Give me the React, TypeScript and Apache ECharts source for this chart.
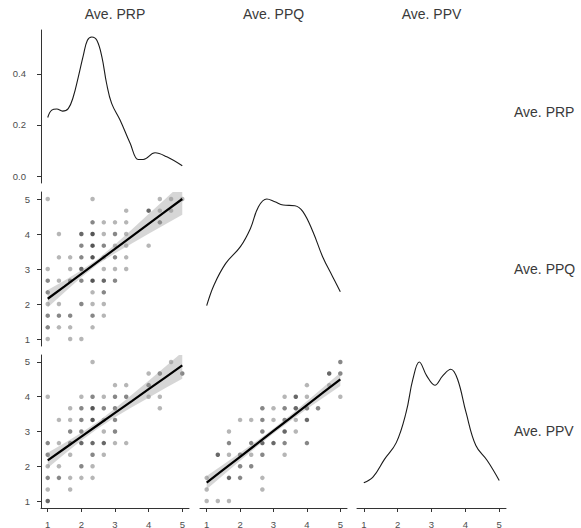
import React, { useEffect, useRef } from "react";
import * as echarts from "echarts";

// ---- labels ----
const varNames = ["Ave. PRP", "Ave. PPQ", "Ave. PPV"];
const xTicks = [1, 2, 3, 4, 5];
const yTicks = [1, 2, 3, 4, 5];
const densTicks = [0, 0.2, 0.4];

// ---- diagonal densities ----
const densPRPx = [1.0, 1.12, 1.27, 1.44, 1.61, 1.76, 1.91, 2.06, 2.18, 2.31, 2.46, 2.61, 2.75, 2.9, 3.15, 3.45, 3.69, 3.84, 4.19, 4.54, 5.0];
const densPRPy = [0.229, 0.258, 0.262, 0.254, 0.264, 0.31, 0.388, 0.473, 0.531, 0.544, 0.531, 0.466, 0.362, 0.284, 0.219, 0.128, 0.065, 0.065, 0.091, 0.075, 0.04];
const densPPQx = [1.0, 1.22, 1.57, 2.01, 2.31, 2.55, 2.8, 3.04, 3.29, 3.64, 3.88, 4.18, 4.47, 4.77, 5.0];
const densPPQy = [0.238, 0.386, 0.54, 0.66, 0.79, 0.945, 1.0, 0.98, 0.957, 0.952, 0.91, 0.766, 0.588, 0.445, 0.338];
const densPPVx = [1.0, 1.27, 1.61, 1.96, 2.25, 2.45, 2.64, 2.86, 3.1, 3.33, 3.57, 3.77, 4.02, 4.31, 4.65, 5.0];
const densPPVy = [0.132, 0.172, 0.3, 0.42, 0.637, 0.876, 1.0, 0.9, 0.833, 0.9, 0.948, 0.876, 0.637, 0.399, 0.29, 0.148];

// ---- scatter points [x, y, count] ----
const ptsPRP_PPQ = [
  [1, 5, 1], [2.333, 5, 1], [4.333, 5, 1], [4.667, 5, 1], [5, 5, 1],
  [3.333, 4.667, 1], [4, 4.667, 3], [4.333, 4.667, 1], [4.667, 4.667, 1],
  [2.333, 4.333, 2], [2.667, 4.333, 1], [3, 4.333, 1], [3.333, 4.333, 1], [4.333, 4.333, 2],
  [1.333, 4, 1], [2, 4, 3], [2.333, 4, 4], [2.667, 4, 1], [3, 4, 2], [3.333, 4, 1],
  [2, 3.667, 2], [2.333, 3.667, 4], [2.667, 3.667, 2], [3, 3.667, 1], [3.333, 3.667, 1], [4, 3.667, 1],
  [1.333, 3.333, 1], [1.667, 3.333, 1], [2, 3.333, 2], [2.333, 3.333, 4], [2.667, 3.333, 1], [3, 3.333, 2], [3.333, 3.333, 1],
  [1, 3, 1], [1.667, 3, 1], [2, 3, 3], [2.667, 3, 1], [3, 3, 1], [3.333, 3, 1],
  [1, 2.667, 2], [1.333, 2.667, 1], [1.667, 2.667, 2], [2, 2.667, 2], [2.333, 2.667, 4], [2.667, 2.667, 3], [3, 2.667, 2],
  [1, 2.333, 2], [2.333, 2.333, 1], [2.667, 2.333, 2],
  [1, 2, 1], [1.333, 2, 1], [2, 2, 2], [2.333, 2, 1], [2.667, 2, 1],
  [1, 1.667, 2], [1.333, 1.667, 2], [1.667, 1.667, 2], [2.333, 1.667, 2], [2.667, 1.667, 1],
  [1, 1.333, 2], [1.333, 1.333, 1], [1.667, 1.333, 1], [2.333, 1.333, 1],
  [1, 1, 1], [1.667, 1, 1], [2, 1, 1],
];
const ptsPRP_PPV = [
  [2.333, 5, 1], [4.667, 5, 1],
  [4, 4.667, 1], [4.333, 4.667, 2], [5, 4.667, 2],
  [3, 4.333, 1], [3.333, 4.333, 1], [4, 4.333, 2],
  [1, 4, 1], [2, 4, 1], [2.333, 4, 2], [2.667, 4, 1], [3, 4, 2], [3.333, 4, 2], [4, 4, 1], [4.333, 4, 1],
  [1.667, 3.667, 1], [2, 3.667, 2], [2.333, 3.667, 4], [2.667, 3.667, 2], [3, 3.667, 2], [4.333, 3.667, 1],
  [1.333, 3.333, 1], [1.667, 3.333, 1], [2, 3.333, 2], [2.333, 3.333, 4], [2.667, 3.333, 1], [3, 3.333, 2],
  [1.667, 3, 2], [2, 3, 2], [2.667, 3, 1], [3, 3, 2],
  [1, 2.667, 2], [1.333, 2.667, 1], [1.667, 2.667, 2], [2, 2.667, 3], [2.333, 2.667, 3], [2.667, 2.667, 3], [3, 2.667, 1], [3.333, 2.667, 1],
  [1, 2.333, 2], [1.667, 2.333, 1], [2.333, 2.333, 2], [2.667, 2.333, 1],
  [1, 2, 1], [1.333, 2, 1], [2, 2, 2], [2.333, 2, 1],
  [1, 1.667, 2], [1.333, 1.667, 2], [1.667, 1.667, 1], [2, 1.667, 1], [2.333, 1.667, 1],
  [1, 1.333, 1], [1.667, 1.333, 1],
  [1, 1, 3],
];
const ptsPPQ_PPV = [
  [5, 5, 2],
  [4.667, 4.667, 3], [5, 4.667, 2],
  [4, 4.333, 1], [4.667, 4.333, 1],
  [3.333, 4, 1], [3.667, 4, 3], [4, 4, 1], [5, 4, 1],
  [2.667, 3.667, 2], [3, 3.667, 1], [3.333, 3.667, 2], [3.667, 3.667, 3], [4, 3.667, 2], [4.333, 3.667, 2],
  [2, 3.333, 1], [2.333, 3.333, 1], [2.667, 3.333, 2], [3, 3.333, 1], [3.333, 3.333, 2], [3.667, 3.333, 1], [4, 3.333, 3],
  [1.667, 3, 1], [2.667, 3, 2], [3.333, 3, 3], [3.667, 3, 1],
  [1.667, 2.667, 2], [2.333, 2.667, 2], [2.667, 2.667, 3], [3, 2.667, 3], [3.333, 2.667, 2], [4, 2.667, 2],
  [1.333, 2.333, 3], [1.667, 2.333, 1], [2, 2.333, 2], [2.333, 2.333, 1], [2.667, 2.333, 2], [3.333, 2.333, 1],
  [2, 2, 2], [2.333, 2, 2],
  [1, 1.667, 1], [1.667, 1.667, 3], [2, 1.667, 2], [2.667, 1.667, 1],
  [1, 1.333, 1], [2.667, 1.333, 1],
  [1, 1, 1], [1.333, 1, 1], [1.667, 1, 1],
];

// ---- linear fits with confidence bands ----
const fitX = [1, 1.5, 2, 2.5, 3, 3.5, 4, 4.5, 5];
const fitPRP_PPQ = [2.15, 2.506, 2.863, 3.219, 3.575, 3.931, 4.288, 4.644, 5.0];
const loPRP_PPQ = [1.9, 2.337, 2.763, 3.144, 3.45, 3.731, 4.008, 4.28, 4.55];
const hiPRP_PPQ = [2.4, 2.675, 2.963, 3.294, 3.7, 4.131, 4.568, 5.008, 5.45];
const fitPRP_PPV = [2.17, 2.511, 2.853, 3.194, 3.535, 3.876, 4.218, 4.559, 4.9];
const loPRP_PPV = [1.95, 2.352, 2.742, 3.097, 3.407, 3.694, 3.973, 4.248, 4.52];
const hiPRP_PPV = [2.39, 2.67, 2.964, 3.291, 3.663, 4.058, 4.463, 4.87, 5.28];
const fitPPQ_PPV = [1.53, 1.901, 2.273, 2.644, 3.015, 3.386, 3.758, 4.129, 4.5];
const loPPQ_PPV = [1.34, 1.751, 2.16, 2.561, 2.945, 3.303, 3.645, 3.979, 4.31];
const hiPPQ_PPV = [1.72, 2.051, 2.386, 2.727, 3.085, 3.469, 3.871, 4.279, 4.69];

const FONT = "'Liberation Sans', Arial, Helvetica, sans-serif";
const AXIS_COLOR = "#333333";
const LABEL_COLOR = "#4d4d4d";

const zip = (xs: number[], ys: number[]) => xs.map((x, i) => [x, ys[i]]);

function makeXAxis(gridIndex: number, show: boolean) {
  return {
    type: "value",
    gridIndex,
    min: 0.8,
    max: 5.2,
    axisLine: { show, onZero: false, lineStyle: { color: AXIS_COLOR, width: 1 } },
    axisTick: { show, length: 4, customValues: xTicks, lineStyle: { color: AXIS_COLOR, width: 1 } },
    axisLabel: {
      show,
      customValues: xTicks,
      margin: 11,
      fontSize: 9.5,
      color: LABEL_COLOR,
      fontFamily: FONT,
    },
    splitLine: { show: false },
  };
}

function makeYAxis(
  gridIndex: number,
  show: boolean,
  min: number,
  max: number,
  ticks: number[],
  margin: number,
  fmt?: (v: number) => string
) {
  return {
    type: "value",
    gridIndex,
    min,
    max,
    axisLine: { show, onZero: false, lineStyle: { color: AXIS_COLOR, width: 1 } },
    axisTick: { show, length: 4, customValues: ticks, lineStyle: { color: AXIS_COLOR, width: 1 } },
    axisLabel: {
      show,
      customValues: ticks,
      margin,
      fontSize: 9.5,
      color: LABEL_COLOR,
      fontFamily: FONT,
      formatter: fmt,
    },
    splitLine: { show: false },
  };
}

function pointColor(n: number) {
  const a = 1 - Math.pow(1 - 0.36, n);
  return `rgba(0,0,0,${a.toFixed(3)})`;
}

function scatterSeries(idx: number, pts: number[][]) {
  return {
    type: "scatter",
    xAxisIndex: idx,
    yAxisIndex: idx,
    symbolSize: 4.5,
    data: pts.map((p) => ({ value: [p[0], p[1]], itemStyle: { color: pointColor(p[2]) } })),
    z: 2,
  };
}

function bandSeries(idx: number, lo: number[], hi: number[], fit: number[]) {
  return [
    {
      type: "custom",
      xAxisIndex: idx,
      yAxisIndex: idx,
      clip: true,
      data: [[fitX[0], lo[0]]],
      encode: { x: 0, y: 1 },
      renderItem: (_params: any, api: any) => {
        const upper = fitX.map((x, i) => api.coord([x, hi[i]]));
        const lower = fitX.map((x, i) => api.coord([x, lo[i]])).reverse();
        return {
          type: "polygon",
          shape: { points: upper.concat(lower) },
          style: { fill: "rgba(153,153,153,0.4)", stroke: "none" },
        };
      },
      z: 3,
    },
    {
      type: "line",
      xAxisIndex: idx,
      yAxisIndex: idx,
      data: zip(fitX, fit),
      symbol: "none",
      lineStyle: { color: "#000000", width: 2.2 },
      z: 4,
    },
  ];
}

function densitySeries(idx: number, xs: number[], ys: number[]) {
  return {
    type: "line",
    xAxisIndex: idx,
    yAxisIndex: idx,
    data: zip(xs, ys),
    symbol: "none",
    smooth: 0.4,
    lineStyle: { color: "#1a1a1a", width: 1.1 },
    z: 3,
  };
}

export default function App() {
  const ref = useRef<HTMLDivElement>(null);

  useEffect(() => {
    if (!ref.current) return;
    const chart = echarts.init(ref.current, null, { renderer: "svg" });

    const colL = [41, 200, 357];
    const colW = [148, 147, 149];
    const rowT = [30, 192, 355];
    const rowH = [153, 154, 153];

    // grid order: 0 r1c1, 1 r2c1, 2 r2c2, 3 r3c1, 4 r3c2, 5 r3c3
    const cells = [
      [0, 0], [1, 0], [1, 1], [2, 0], [2, 1], [2, 2],
    ];
    const grid = cells.map(([r, c]) => ({
      left: colL[c],
      top: rowT[r],
      width: colW[c],
      height: rowH[r],
      containLabel: false,
      outerBoundsMode: "none",
    }));

    const xAxis = [
      makeXAxis(0, false),
      makeXAxis(1, false),
      makeXAxis(2, false),
      makeXAxis(3, true),
      makeXAxis(4, true),
      makeXAxis(5, true),
    ];
    const yAxis = [
      makeYAxis(0, true, -0.0272, 0.5712, densTicks, 15, (v: number) => v.toFixed(1)),
      makeYAxis(1, true, 0.8, 5.2, yTicks, 11),
      makeYAxis(2, false, -0.05, 1.05, [], 11),
      makeYAxis(3, true, 0.8, 5.2, yTicks, 11),
      makeYAxis(4, false, 0.8, 5.2, yTicks, 11),
      makeYAxis(5, false, -0.05, 1.05, [], 11),
    ];

    const series: any[] = [
      densitySeries(0, densPRPx, densPRPy),
      scatterSeries(1, ptsPRP_PPQ),
      ...bandSeries(1, loPRP_PPQ, hiPRP_PPQ, fitPRP_PPQ),
      densitySeries(2, densPPQx, densPPQy),
      scatterSeries(3, ptsPRP_PPV),
      ...bandSeries(3, loPRP_PPV, hiPRP_PPV, fitPRP_PPV),
      scatterSeries(4, ptsPPQ_PPV),
      ...bandSeries(4, loPPQ_PPV, hiPPQ_PPV, fitPPQ_PPV),
      densitySeries(5, densPPVx, densPPVy),
    ];

    const stripStyle = { fontSize: 14, fill: "#3a3a3a", fontFamily: FONT };
    const graphic: any[] = [];
    varNames.forEach((name, i) => {
      graphic.push({
        type: "text",
        x: colL[i] + colW[i] / 2,
        y: 14,
        style: { ...stripStyle, text: name, textAlign: "center", textVerticalAlign: "middle" },
      });
    });
    const rowLabelY = [112, 269, 431];
    varNames.forEach((name, i) => {
      graphic.push({
        type: "text",
        x: 514,
        y: rowLabelY[i],
        style: { ...stripStyle, text: name, textAlign: "left", textVerticalAlign: "middle" },
      });
    });

    chart.setOption({
      animation: false,
      backgroundColor: "#ffffff",
      textStyle: { fontFamily: FONT },
      grid,
      xAxis,
      yAxis,
      series,
      graphic,
    });

    return () => chart.dispose();
  }, []);

  return (
    <div
      ref={ref}
      style={{ position: "fixed", left: 0, top: 0, width: 581, height: 528, background: "#fff" }}
    />
  );
}
